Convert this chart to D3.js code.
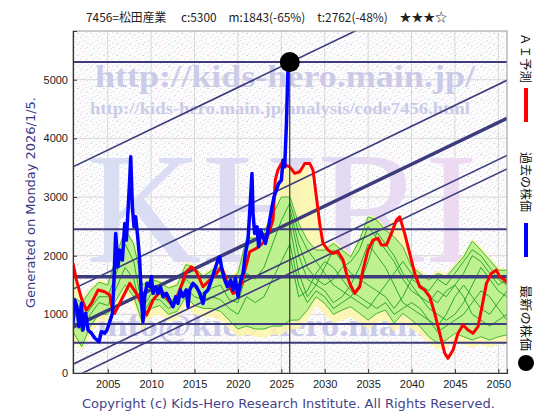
<!DOCTYPE html>
<html>
<head>
<meta charset="utf-8">
<script src="https://cdn.jsdelivr.net/npm/d3@7"></script>
<style>
body { margin: 0; background: #fff; }
svg text { font-family: "DejaVu Sans", sans-serif; }
</style>
</head>
<body>
<svg id="chart" width="560" height="420"></svg>
<script>
// ---- data ----
var titleText = "7456=松田産業　 c:5300　m:1843(-65%)　t:2762(-48%)　★★★☆";
var xTicks = [2005, 2010, 2015, 2020, 2025, 2030, 2035, 2040, 2045, 2050];
var yTicks = [0, 1000, 2000, 3000, 4000, 5000];

var blueYears = [2001.0,2001.2,2001.46,2001.69,2001.97,2002.15,2002.46,2002.73,2003.12,2003.5,
  2004.0,2004.27,2004.65,2004.92,2005.23,2005.54,2005.72,2005.92,2006.18,2006.38,
  2006.69,2006.96,2007.15,2007.34,2007.53,2007.65,2007.84,2008.03,2008.22,2008.49,
  2008.68,2008.88,2009.06,2009.26,2009.53,2009.84,2010.03,2010.22,2010.53,2010.79,
  2011.07,2011.37,2011.76,2012.14,2012.52,2012.83,2013.1,2013.37,2013.67,2014.06,
  2014.25,2014.44,2014.82,2015.22,2015.6,2015.98,2016.17,2016.55,2016.94,2017.32,
  2017.7,2017.9,2018.17,2018.48,2018.79,2019.17,2019.43,2019.71,2020.01,2020.32,
  2020.59,2020.86,2021.16,2021.44,2021.62,2021.74,2021.93,2022.2,2022.39,2022.62,
  2022.89,2023.17,2023.4,2023.66,2023.93,2024.16,2024.43,2024.7,2025.01,2025.19,
  2025.39,2025.59,2025.77,2025.97];
var blueValues = [847,1244,1130,789,1190,732,1020,732,680,596,
  533,704,680,732,874,1017,1584,2380,1811,2095,
  1925,2550,2266,2777,3288,3685,2833,2492,2663,2266,
  1925,1300,874,1300,1528,1470,1640,1358,1470,1358,
  1470,1300,1358,1244,1130,1300,1187,1414,1300,1414,
  1130,1414,1528,1470,1358,1187,1358,1414,1584,1755,
  1925,1981,1755,1584,1470,1584,1414,1613,1300,1584,
  1698,2039,2266,2947,3402,2721,2380,2492,2152,2436,
  2322,2210,2380,2606,2833,3003,3118,3232,3288,3628,
  3514,4254,5218,5300];

var redYears = [2001.0,2001.4,2001.97,2002.54,2003.12,2003.88,2004.65,2005.23,2005.42,2005.8,
  2006.76,2007.53,2008.3,2009.06,2009.46,2010.22,2011.18,2012.52,2013.29,2014.06,
  2014.64,2015.22,2015.98,2016.75,2017.52,2018.1,2018.67,2019.43,2020.2,2021.36,
  2022.13,2023.28,2024.04,2024.3,2024.6,2025.01,2025.97,2026.54,2027.12,2027.7,
  2028.27,2028.65,2029.04,2029.42,2029.8,2030.38,2030.95,2031.53,2032.11,2032.5,
  2032.88,2033.45,2034.03,2034.41,2034.99,2035.56,2036.14,2036.53,2037.1,2037.68,
  2038.26,2038.64,2039.21,2039.79,2040.37,2040.94,2041.52,2042.1,2042.67,2043.25,
  2043.83,2044.2,2044.78,2045.35,2045.93,2046.51,2047.08,2047.66,2048.12,2048.63,
  2049.2,2049.78,2050.16,2050.74,2051.0];
var redValues = [1869,1584,1272,1073,1187,1414,1385,1329,1158,1017,
  1300,1528,1358,1130,988,1244,1414,1130,1414,1726,
  1811,1726,1470,1584,1698,1811,1584,1358,1414,2067,
  2124,2266,2606,3288,3458,3572,3514,3402,3430,3572,
  3572,3458,3003,2550,2210,2095,2039,2067,1925,1698,
  1528,1358,1470,1755,2095,2266,2295,2181,2181,2380,
  2606,2663,2380,2039,1698,1470,1414,1300,1017,676,
  336,250,392,676,818,732,676,789,1130,1528,
  1698,1755,1640,1584,1538];

// yearly envelopes of the simulated paths
var bandYears = [2001,2002,2003,2004,2005,2006,2007,2008,2009,2010,2011,2012,2013,2014,2015,2016,2017,
  2018,2019,2020,2021,2022,2023,2024,2025,2026,2027,2028,2029,2030,2031,2032,2033,2034,
  2035,2036,2037,2038,2039,2040,2041,2042,2043,2044,2045,2046,2047,2048,2049,2050,2051];
var greenTop = [1300,1200,1400,1550,1500,2000,2450,2200,1500,1600,1550,1450,1500,1850,1800,1650,1750,
  1800,1600,1700,2300,2300,2400,2700,3000,3000,2550,2266,2095,2095,2210,2095,1981,2266,
  2663,2606,2436,2322,2152,1811,1698,1584,1698,1640,1811,1981,2250,2095,1925,1755,1750];
var greenBottom = [700,450,800,1000,1000,1250,1500,1300,850,1100,1150,1000,1050,1300,1150,1100,1100,
  1050,900,750,800,750,750,800,800,900,903,1073,1300,1187,1000,1073,1130,1017,
  903,1017,1073,847,1017,903,789,618,505,562,676,618,562,618,562,618,650];
var yellowTop = [1870,1300,1450,1600,1550,2050,2500,2250,1550,1650,1600,1500,1550,1900,1850,1700,1800,
  1850,1650,1750,2350,2350,2450,2750,3550,3500,3420,3550,3000,2150,2260,2150,2030,2320,
  2700,2650,2480,2620,2420,1860,1750,1640,1750,1700,1860,2030,2300,2150,1980,1800,1780];
var yellowBottom = [580,380,650,880,880,1100,1350,1150,700,950,1000,880,900,1150,1000,950,950,
  900,750,620,650,620,600,650,650,750,750,900,1150,1000,850,900,950,850,
  750,850,900,700,850,750,650,500,400,420,550,480,420,480,430,480,520];

// a few of the thin green simulated paths
var pastPathYears = [2001,2002,2003,2004,2005,2006,2007,2008,2009,2010,2011,2012,2013,
  2014,2015,2016,2017,2018,2019,2020,2021,2022,2023,2024,2025,2026];
var pastPathA = [1000,900,1100,1300,1300,1700,2200,1900,1100,1350,1350,1200,1300,
  1600,1450,1350,1450,1500,1250,1200,1700,1600,1800,2200,2600,2900];
var pastPathB = [1150,700,1000,1200,1150,1450,1800,1600,1000,1250,1250,1100,1200,
  1450,1300,1250,1300,1250,1100,1000,1300,1200,1300,1600,1900,2200];
var futurePathYears = [2026,2027,2028,2029,2030,2031,2032,2033,2034,2035,2036,2037,2038,
  2039,2040,2041,2042,2043,2044,2045,2046,2047,2048,2049,2050,2051];
var futurePath1 = [2900,2400,2100,1900,1700,1500,1400,1300,1500,1900,2400,2200,2000,1700,1500,1300,1100,1000,900,1000,1200,1500,1800,1600,1400,1300];
var futurePath2 = [2700,2000,1600,1500,1800,2100,1900,1700,1600,1500,1400,1300,1100,1300,1600,1500,1400,1600,1500,1700,1900,2100,2000,1800,1600,1500];
var futurePath3 = [2500,1700,1300,1500,1400,1200,1300,1500,1800,2200,2000,1800,1500,1200,1100,1000,900,800,1000,1300,1500,1300,1100,1000,1200,1400];
var futurePath4 = [2200,1500,1200,1400,1300,1100,1200,1300,1200,1100,1300,1500,1700,1900,1700,1500,1300,1200,1400,1500,1300,1000,900,800,900,1000];
var futurePath5 = [2000,1300,1400,1700,1900,1800,1600,1400,1300,1200,1100,1200,1000,1100,1200,1100,900,700,800,900,1000,1200,1400,1300,1100,900];
var futurePath6 = [2800,2200,1800,1600,1500,1600,1800,1900,2100,2500,2300,2100,1900,1600,1400,1300,1200,1400,1300,1500,1700,2000,1900,1700,1500,1600];

// support / resistance levels and trend channel
var levelValues = [5300, 2450, 1640, 835, 516];
var trendStart = [3515, 1430, 780, 150, -80];   // value at 2001
var trendEnd = [7075, 4990, 4340, 3710, 3480];  // value at 2051
var nowYear = 2025.97;
var nowPrice = 5300;

// ---- drawing ----
var svg = d3.select("#chart");
var plotL = 73, plotR = 507, plotT = 31, plotB = 373;

var x = d3.scaleLinear().domain([2001, 2051]).range([plotL, plotR]);
var y = d3.scaleLinear().domain([0, 5830]).range([plotB, plotT]);

var defs = svg.append("defs");

// speckled paper behind the plot
var pat = defs.append("pattern")
  .attr("id", "noise")
  .attr("width", 13).attr("height", 11)
  .attr("patternUnits", "userSpaceOnUse");
pat.append("rect").attr("width", 13).attr("height", 11).attr("fill", "#fdfcfd");
var specks = [[0,0,"#edc6e6"],[5,1,"#c8e4ee"],[9,3,"#d4d4d4"],[2,4,"#f2cdea"],[11,6,"#cfe8f0"],
  [6,7,"#e6d0e4"],[1,9,"#cde6ee"],[8,10,"#f0c8e8"],[12,0,"#dadada"],[4,8,"#f4d6ee"],
  [10,9,"#d6ecf2"],[7,4,"#eed4ea"],[3,2,"#dcdcdc"]];
specks.forEach(function(s){
  pat.append("rect").attr("x", s[0]).attr("y", s[1])
    .attr("width", 1).attr("height", 1).attr("fill", s[2]);
});

var grad = defs.append("linearGradient")
  .attr("id", "khri")
  .attr("x1", "0%").attr("x2", "100%").attr("y1", "0%").attr("y2", "0%");
grad.append("stop").attr("offset", "0%").attr("stop-color", "#d8def4");
grad.append("stop").attr("offset", "50%").attr("stop-color", "#dedaf2");
grad.append("stop").attr("offset", "100%").attr("stop-color", "#eedaf2");

defs.append("clipPath").attr("id", "plotclip")
  .append("rect")
  .attr("x", plotL).attr("y", plotT)
  .attr("width", plotR - plotL).attr("height", plotB - plotT);

svg.append("rect")
  .attr("x", plotL).attr("y", plotT)
  .attr("width", plotR - plotL).attr("height", plotB - plotT)
  .attr("fill", "url(#noise)");

// grid
svg.append("g").selectAll("line")
  .data(xTicks)
  .enter().append("line")
  .attr("x1", function(d){ return x(d); })
  .attr("x2", function(d){ return x(d); })
  .attr("y1", plotT).attr("y2", plotB)
  .attr("stroke", "#d8d8d8").attr("stroke-width", 1);
svg.append("g").selectAll("line")
  .data(yTicks.slice(1))
  .enter().append("line")
  .attr("x1", plotL).attr("x2", plotR)
  .attr("y1", function(d){ return y(d); })
  .attr("y2", function(d){ return y(d); })
  .attr("stroke", "#d8d8d8").attr("stroke-width", 1);

var plot = svg.append("g").attr("clip-path", "url(#plotclip)");

// watermark
plot.append("text")
  .text("KHRI")
  .attr("x", 86).attr("y", 262)
  .attr("textLength", 392).attr("lengthAdjust", "spacingAndGlyphs")
  .style("font-family", "'Liberation Serif', 'DejaVu Serif', serif")
  .style("font-size", "158px")
  .attr("fill", "url(#khri)");
plot.append("text")
  .text("http://kids-hero.main.jp/")
  .attr("x", 95).attr("y", 87)
  .attr("textLength", 380).attr("lengthAdjust", "spacingAndGlyphs")
  .style("font-family", "'Liberation Serif', 'DejaVu Serif', serif")
  .style("font-weight", "bold").style("font-size", "31px")
  .attr("fill", "#cbcbe8");
plot.append("text")
  .text("http://kids-hero.main.jp/analysis/code7456.html")
  .attr("x", 90).attr("y", 114)
  .attr("textLength", 380).attr("lengthAdjust", "spacingAndGlyphs")
  .style("font-family", "'Liberation Serif', 'DejaVu Serif', serif")
  .style("font-weight", "bold").style("font-size", "17px")
  .attr("fill", "#cbcbe8");
plot.append("text")
  .text("info@kids-hero.main.jp")
  .attr("x", 97).attr("y", 336)
  .attr("textLength", 372).attr("lengthAdjust", "spacingAndGlyphs")
  .style("font-family", "'Liberation Serif', 'DejaVu Serif', serif")
  .style("font-weight", "bold").style("font-size", "31px")
  .attr("fill", "#cbcbe8");

// simulation envelopes
var yellowArea = d3.area()
  .x(function(d,i){ return x(bandYears[i]); })
  .y0(function(d,i){ return y(yellowBottom[i]); })
  .y1(function(d){ return y(d); });
plot.append("path")
  .attr("d", yellowArea(yellowTop))
  .attr("fill", "#fdf6a8").attr("fill-opacity", 0.85);

var greenArea = d3.area()
  .x(function(d,i){ return x(bandYears[i]); })
  .y0(function(d,i){ return y(greenBottom[i]); })
  .y1(function(d){ return y(d); });
plot.append("path")
  .attr("d", greenArea(greenTop))
  .attr("fill", "#b4f08a").attr("fill-opacity", 0.85);

var bandLine = d3.line()
  .x(function(d,i){ return x(bandYears[i]); })
  .y(function(d){ return y(d); });
[greenTop, greenBottom].forEach(function(s){
  plot.append("path")
    .attr("d", bandLine(s))
    .attr("fill", "none").attr("stroke", "#44b830").attr("stroke-width", 1);
});

var pastLine = d3.line()
  .x(function(d,i){ return x(pastPathYears[i]); })
  .y(function(d){ return y(d); });
[pastPathA, pastPathB].forEach(function(s){
  plot.append("path")
    .attr("d", pastLine(s))
    .attr("fill", "none").attr("stroke", "#2ea82a").attr("stroke-width", 1);
});
var futureLine = d3.line()
  .x(function(d,i){ return x(futurePathYears[i]); })
  .y(function(d){ return y(d); });
[futurePath1, futurePath2, futurePath3, futurePath4, futurePath5, futurePath6].forEach(function(s){
  plot.append("path")
    .attr("d", futureLine(s))
    .attr("fill", "none").attr("stroke", "#2ea82a").attr("stroke-width", 1);
});

// horizontal levels
plot.append("g").selectAll("line")
  .data(levelValues)
  .enter().append("line")
  .attr("x1", plotL).attr("x2", plotR)
  .attr("y1", function(d){ return y(d); })
  .attr("y2", function(d){ return y(d); })
  .attr("stroke", "#3c3c7c")
  .attr("stroke-width", function(d,i){ return i == 2 ? 3.5 : 2; });

// trend channel
plot.append("g").selectAll("line")
  .data(trendStart)
  .enter().append("line")
  .attr("x1", x(2001)).attr("x2", x(2051))
  .attr("y1", function(d){ return y(d); })
  .attr("y2", function(d,i){ return y(trendEnd[i]); })
  .attr("stroke", "#3c3c7c")
  .attr("stroke-width", function(d,i){ return i == 2 ? 3.5 : 1.6; });

// AI prediction
var redLine = d3.line()
  .x(function(d,i){ return x(redYears[i]); })
  .y(function(d){ return y(d); });
plot.append("path")
  .attr("d", redLine(redValues))
  .attr("fill", "none").attr("stroke", "#ff0000")
  .attr("stroke-width", 3).attr("stroke-linejoin", "round");

// past price
var blueLine = d3.line()
  .x(function(d,i){ return x(blueYears[i]); })
  .y(function(d){ return y(d); });
plot.append("path")
  .attr("d", blueLine(blueValues))
  .attr("fill", "none").attr("stroke", "#0000ff")
  .attr("stroke-width", 3.5).attr("stroke-linejoin", "round");

// now line and latest price
plot.append("line")
  .attr("x1", x(nowYear)).attr("x2", x(nowYear))
  .attr("y1", y(nowPrice)).attr("y2", plotB)
  .attr("stroke", "#333").attr("stroke-width", 1.2);
svg.append("circle")
  .attr("cx", x(nowYear)).attr("cy", y(nowPrice))
  .attr("r", 10).attr("fill", "#000");

// frame
svg.append("rect")
  .attr("x", plotL).attr("y", plotT)
  .attr("width", plotR - plotL).attr("height", plotB - plotT)
  .attr("fill", "none").attr("stroke", "#999").attr("stroke-width", 1);

// axes
var xAxis = svg.append("g")
  .attr("transform", "translate(0," + plotB + ")")
  .call(d3.axisBottom(x).tickValues(xTicks).tickFormat(d3.format("d")).tickSize(-4).tickPadding(7));
var yAxis = svg.append("g")
  .attr("transform", "translate(" + plotL + ",0)")
  .call(d3.axisLeft(y).tickValues(yTicks).tickFormat(d3.format("d")).tickSize(-4).tickPadding(5));
[xAxis, yAxis].forEach(function(a){
  a.select(".domain").attr("stroke", "#333").attr("stroke-width", 1.2);
  a.selectAll(".tick line").attr("stroke", "#333");
  a.selectAll("text")
    .style("font-family", "'Liberation Sans', Arial, sans-serif")
    .style("font-size", "11px").attr("fill", "#222");
});

// title and footers
svg.append("text")
  .text(titleText)
  .attr("x", 86).attr("y", 22)
  .attr("textLength", 361).attr("lengthAdjust", "spacingAndGlyphs")
  .style("font-family", "'Noto Sans CJK JP', sans-serif")
  .style("font-size", "12px").attr("fill", "#222");

svg.append("text")
  .text("Generated on Monday 2026/1/5.")
  .attr("transform", "translate(35,308) rotate(-90)")
  .attr("textLength", 211).attr("lengthAdjust", "spacingAndGlyphs")
  .style("font-size", "12px").attr("fill", "#3a3a88");

svg.append("text")
  .text("Copyright (c) Kids-Hero Research Institute. All Rights Reserved.")
  .attr("x", 82).attr("y", 408)
  .attr("textLength", 413).attr("lengthAdjust", "spacingAndGlyphs")
  .style("font-size", "12.5px").attr("fill", "#44448a");

// legend on the right, written downwards
var legendFont = "'Noto Sans CJK JP', sans-serif";
svg.append("text")
  .text("ＡＩ予測")
  .attr("transform", "translate(521,33) rotate(90)")
  .attr("textLength", 50).attr("lengthAdjust", "spacingAndGlyphs")
  .style("font-family", legendFont).style("font-size", "12px").attr("fill", "#111");
svg.append("rect")
  .attr("x", 524).attr("y", 88).attr("width", 4).attr("height", 34)
  .attr("fill", "#ff0000");
svg.append("text")
  .text("過去の株価")
  .attr("transform", "translate(521,152) rotate(90)")
  .attr("textLength", 60).attr("lengthAdjust", "spacingAndGlyphs")
  .style("font-family", legendFont).style("font-size", "12px").attr("fill", "#111");
svg.append("rect")
  .attr("x", 524).attr("y", 223).attr("width", 4).attr("height", 34)
  .attr("fill", "#0000ff");
svg.append("text")
  .text("最新の株価")
  .attr("transform", "translate(521,285) rotate(90)")
  .attr("textLength", 66).attr("lengthAdjust", "spacingAndGlyphs")
  .style("font-family", legendFont).style("font-size", "12px").attr("fill", "#111");
svg.append("circle")
  .attr("cx", 526).attr("cy", 363).attr("r", 8).attr("fill", "#000");
</script>
</body>
</html>
